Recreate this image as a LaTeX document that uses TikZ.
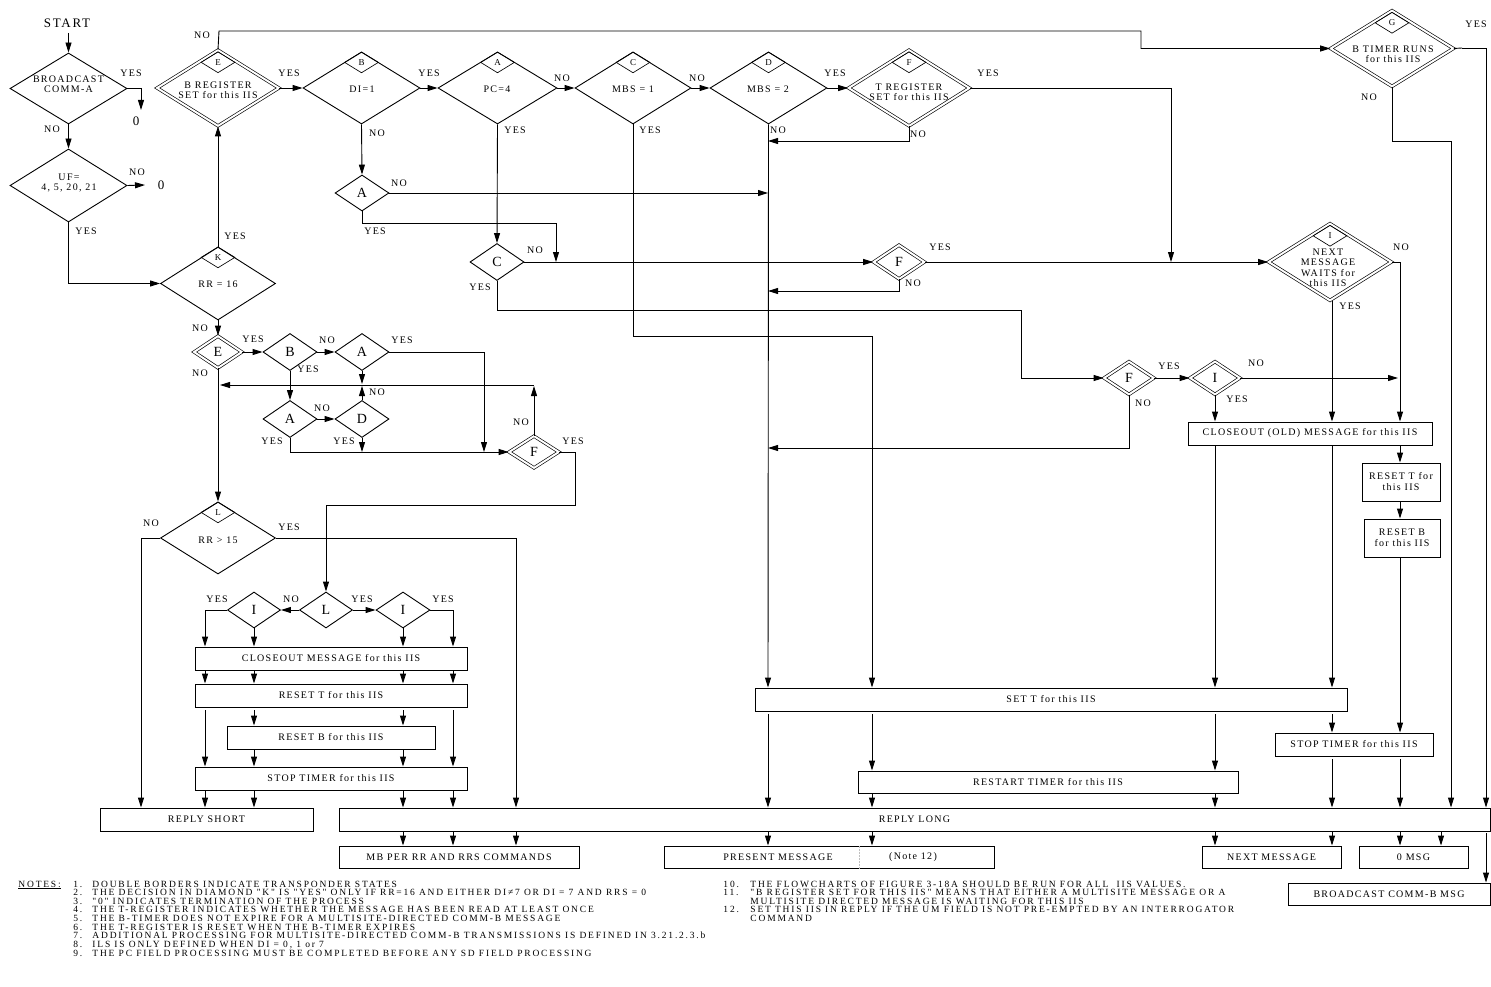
\documentclass[tikz,border=0pt]{standalone}
\usepackage{fontspec}
\setmainfont{Liberation Serif}
\newfontfamily\dfont{Liberation Serif}[LetterSpace=13]
\newfontfamily\nfont{Liberation Serif}[LetterSpace=19]
\usetikzlibrary{shapes.geometric,arrows.meta}
\begin{document}
\begin{tikzpicture}[x=1pt,y=-1pt,line width=0.9pt,
  arr/.style={-{Triangle[length=10pt,width=6pt]}},
  dia/.style 2 args={diamond,draw,inner sep=0pt,minimum width=#1,minimum height=#2,font=\fontsize{14}{14}\selectfont},
  ddia/.style 2 args={dia={#1}{#2},double,double distance=2pt,line width=0.65pt},
  subd/.style={diamond,draw,inner sep=0pt,minimum width=34pt,minimum height=21pt,line width=0.65pt,anchor=north,font=\dfont\fontsize{9}{9}\selectfont},
  box/.style={draw,rectangle,inner sep=0pt,font=\dfont\fontsize{10}{11}\selectfont,align=center},
  lbl/.style={inner sep=0pt,font=\dfont\fontsize{10}{10}\selectfont},
  dtxt/.style={inner sep=0pt,font=\dfont\fontsize{10}{10}\selectfont,align=center},
  zero/.style={inner sep=0pt,font=\fontsize{13}{13}\selectfont},
  note/.style={inner sep=0pt,anchor=base west,font=\nfont\fontsize{9.5}{9.5}\selectfont},
]
\useasboundingbox (0,0) rectangle (1491,987);

% column coordinates
\coordinate (xa) at (205,0);
\coordinate (xb) at (254,0);
\coordinate (xc) at (403,0);
\coordinate (xd) at (453,0);
\coordinate (xe) at (516,0);
\coordinate (xs) at (141,0);
\coordinate (xD) at (768,0);
\coordinate (xC) at (872,0);
\coordinate (xI) at (1215,0);
\coordinate (xN) at (1332,0);
\coordinate (xR) at (1400,0);
\coordinate (xG) at (1451,0);
\coordinate (xY) at (1486,0);
\coordinate (xZ) at (1441,0);

% ---------- diamonds ----------
\node[inner sep=0pt,font=\dfont\fontsize{13}{13}\selectfont] (start) at (67,23) {START};
\coordinate (startp) at (68.5,33);
\node[dia={117pt}{71pt}] (bc) at (68.5,88.5) {};
\node[dtxt] (bct) at (68.5,84.5) {BROADCAST\\COMM-A};
\node[dia={117pt}{73pt}] (uf) at (68.5,185.5) {};
\node[dtxt] (uft) at (69,182.5) {UF=\\4, 5, 20, 21};
\node[dia={115pt}{73pt}] (k) at (218,283.5) {};
\node[dtxt] (kt) at (218,284) {RR = 16};
\node[ddia={122pt}{76pt}] (e) at (218,88) {};
\node[dtxt] (et) at (218,90) {B REGISTER\\SET for this IIS};
\node[dia={117pt}{72pt}] (b) at (361.5,88) {};
\node[dtxt] (bt) at (362,89) {DI=1};
\node[dia={119pt}{72pt}] (a) at (497.5,88) {};
\node[dtxt] (at) at (497,89) {PC=4};
\node[dia={116pt}{72pt}] (c) at (633,88) {};
\node[dtxt] (ct) at (633,89) {MBS = 1};
\node[dia={117pt}{72pt}] (d) at (768.5,88) {};
\node[dtxt] (dt) at (768,89) {MBS = 2};
\node[ddia={121pt}{76pt}] (f) at (909,88) {};
\node[dtxt] (ft) at (909,92) {T REGISTER\\SET for this IIS};
\node[ddia={123pt}{76pt}] (g) at (1392,48.5) {};
\node[dtxt] (gt) at (1393,54) {B TIMER RUNS\\for this IIS};
\node[ddia={123pt}{77pt}] (i1) at (1330,262) {};
\node[dtxt,font=\dfont\fontsize{10}{10.5}\selectfont] (i1t) at (1328,268) {NEXT\\MESSAGE\\WAITS for\\this IIS};
\node[dia={115pt}{72pt}] (l) at (218,538) {};
\node[dtxt] (lt) at (218,540) {RR > 15};

% sub diamonds
\node[subd] (ks) at (k.north) {K};
\node[subd] (es) at ([yshift=-1.8pt]e.north) {E};
\node[subd] (bs) at (b.north) {B};
\node[subd] (as) at (a.north) {A};
\node[subd] (cs) at (c.north) {C};
\node[subd] (ds) at (d.north) {D};
\node[subd] (fs) at ([yshift=-1.8pt]f.north) {F};
\node[subd] (gs) at ([yshift=-1.8pt]g.north) {G};
\node[subd] (i1s) at ([yshift=-1.8pt]i1.north) {I};
\node[subd] (ls) at (l.north) {L};

% small diamonds
\node[dia={54pt}{36pt}] (a1) at (362,193) {A};
\node[dia={54pt}{37pt}] (c1) at (497,262) {C};
\node[ddia={51pt}{34pt}] (f1) at (899,262) {F};
\node[ddia={50pt}{33pt}] (f2) at (1129,378) {F};
\node[ddia={50pt}{33pt}] (i2) at (1215,378) {I};
\node[ddia={48pt}{32pt}] (e2) at (218,352) {E};
\node[dia={54pt}{37pt}] (b2) at (290,352) {B};
\node[dia={54pt}{37pt}] (a2) at (362,352) {A};
\node[dia={54pt}{37pt}] (a3) at (290,419) {A};
\node[dia={54pt}{37pt}] (d2) at (362,419) {D};
\node[ddia={50pt}{32pt}] (f3) at (534,452) {F};
\node[dia={53pt}{36pt}] (i3) at (254,610) {I};
\node[dia={53pt}{36pt}] (l2) at (326,610) {L};
\node[dia={54pt}{36pt}] (i4) at (403,610) {I};

% ---------- boxes ----------
\node[box,minimum width=272pt,minimum height=23pt] (clo) at (331,658.5) {CLOSEOUT MESSAGE for this IIS};
\node[box,minimum width=272pt,minimum height=23pt] (rt) at (331,695.5) {RESET T for this IIS};
\node[box,minimum width=208pt,minimum height=23pt] (rb) at (331,737.5) {RESET B for this IIS};
\node[box,minimum width=272pt,minimum height=23pt] (st) at (331,778.5) {STOP TIMER for this IIS};
\node[box,minimum width=213pt,minimum height=23pt] (rs) at (206.5,819.5) {REPLY SHORT};
\node[box,minimum width=1151pt,minimum height=23pt] (rl) at (914.5,819.5) {REPLY LONG};
\node[box,minimum width=240pt,minimum height=22pt] (mb) at (459,857) {MB PER RR AND RRS COMMANDS};
\node[box,minimum width=330pt,minimum height=22pt] (pm) at (829,857) {};
\node[lbl] (pmt) at (778,857) {PRESENT MESSAGE};
\node[lbl] (pmn) at (913,857) {(Note 12)};
\draw[line width=0.5pt,gray!50,densely dotted] (pm.north -| 859,0) -- (pm.south -| 859,0);
\node[box,minimum width=139pt,minimum height=22pt] (nm) at (1271.5,857) {NEXT MESSAGE};
\node[box,minimum width=109pt,minimum height=22pt] (zm) at (1413.5,857) {0 MSG};
\node[box,minimum width=202pt,minimum height=22pt] (bcb) at (1389,894) {BROADCAST COMM-B MSG};
\node[box,minimum width=592pt,minimum height=23pt] (sett) at (1051,699.5) {SET T for this IIS};
\node[box,minimum width=380pt,minimum height=22pt] (rst) at (1048,782) {RESTART TIMER for this IIS};
\node[box,minimum width=158pt,minimum height=23pt] (st2) at (1354,744.5) {STOP TIMER for this IIS};
\node[box,minimum width=244pt,minimum height=23pt] (clo2) at (1310,433.5) {CLOSEOUT (OLD) MESSAGE for this IIS};
\node[box,minimum width=78pt,minimum height=38pt] (rt2) at (1401,482) {RESET T for\\this IIS};
\node[box,minimum width=76pt,minimum height=38pt] (rb2) at (1402,538) {RESET B\\for this IIS};

% ---------- YES / NO labels ----------
\node[lbl] (y1) at (131,73) {YES};
\node[zero] (z1) at (136,121) {0};
\node[lbl] (n1) at (52,129) {NO};
\node[lbl] (n2) at (137,172) {NO};
\node[zero] (z2) at (161,185) {0};
\node[lbl] (y2) at (86,231) {YES};
\node[lbl] (y3) at (235,236) {YES};
\node[lbl] (n3) at (202,35) {NO};
\node[lbl] (y4) at (289,73) {YES};
\node[lbl] (y5) at (429,73) {YES};
\node[lbl] (n4) at (377,133) {NO};
\node[lbl] (n5) at (399,183) {NO};
\node[lbl] (y6) at (375,231) {YES};
\node[lbl] (n6) at (562,78) {NO};
\node[lbl] (y7) at (515,130) {YES};
\node[lbl] (n7) at (535,250) {NO};
\node[lbl] (y8) at (480,287) {YES};
\node[lbl] (n8) at (697,78) {NO};
\node[lbl] (y9) at (650,130) {YES};
\node[lbl] (y10) at (835,73) {YES};
\node[lbl] (n9) at (778,130) {NO};
\node[lbl] (y11) at (988,73) {YES};
\node[lbl] (n10) at (918,134) {NO};
\node[lbl] (y12) at (940,247) {YES};
\node[lbl] (n11) at (913,283) {NO};
\node[lbl] (y13) at (1476,24) {YES};
\node[lbl] (n12) at (1369,97) {NO};
\node[lbl] (n13) at (1401,247) {NO};
\node[lbl] (y14) at (1350,306) {YES};
\node[lbl] (y15) at (1169,366) {YES};
\node[lbl] (n14) at (1143,403) {NO};
\node[lbl] (n15) at (1256,363) {NO};
\node[lbl] (y16) at (1237,399) {YES};
\node[lbl] (n16) at (200,328) {NO};
\node[lbl] (y17) at (253,339) {YES};
\node[lbl] (n17) at (200,373) {NO};
\node[lbl] (n18) at (327,340) {NO};
\node[lbl] (y18) at (308,369) {YES};
\node[lbl] (y19) at (402,340) {YES};
\node[lbl] (n19) at (322,408) {NO};
\node[lbl] (y20) at (272,441) {YES};
\node[lbl] (n20) at (377,392) {NO};
\node[lbl] (y21) at (344,441) {YES};
\node[lbl] (n21) at (521,422) {NO};
\node[lbl] (y22) at (573,441) {YES};
\node[lbl] (n22) at (151,523) {NO};
\node[lbl] (y23) at (289,527) {YES};
\node[lbl] (y24) at (217,599) {YES};
\node[lbl] (n23) at (291,599) {NO};
\node[lbl] (y25) at (362,599) {YES};
\node[lbl] (y26) at (443,599) {YES};

% ---------- connectors: top ----------
\coordinate (z1p) at (141,110);
\coordinate (z2p) at (145,185);
\draw[arr] (startp) -- (bc.north);
\draw[arr] (bc.east) -| (z1p);
\draw[arr] (bc.south) -- (uf.north);
\draw[arr] (uf.east) -- (z2p);
\draw[arr] (uf.south) |- (k.west);
\draw[arr] (k.north) -- (e.south);
\coordinate (t1) at (219,31);
\coordinate (t2) at (1141,31);
\draw[arr] (e.north) -- (t1) -- (t2) |- (g.west);
\draw[arr] (e.east) -- (b.west);
\draw[arr] (b.east) -- (a.west);
\draw[arr] (a.east) -- (c.west);
\draw[arr] (c.east) -- (d.west);
\draw[arr] (d.east) -- (f.west);
\draw[arr] (b.south) -- (a1.north);
\draw[arr] (a1.east) -- (a1.east -| xD);
\coordinate (j1) at (556,223);
\draw[arr] (a1.south) |- (j1) -- (j1 |- c1.east);
\draw[arr] (a.south) -- (c1.north);
\draw[arr] (c1.east) -- (f1.west);
\coordinate (j2) at (1021,310);
\draw[arr] (c1.south) |- (j2) |- (f2.west);
\coordinate (j3) at (872,336);
\draw[arr] (c.south) |- (j3) -- (sett.north -| xC);
\draw[arr] (d.south) -- (sett.north -| xD);
\coordinate (j4) at (768,141);
\draw[arr] (f.south) |- (j4);
\coordinate (j5) at (1171,262);
\draw[arr] (f.east) -| (j5);
\coordinate (j6) at (768,291);
\draw[arr] (f1.south) |- (j6);
\draw[arr] (f1.east) -- (i1.west);
\coordinate (j7) at (768,448);
\draw[arr] (f2.south) |- (j7);
\draw[arr] (f2.east) -- (i2.west);
\draw[arr] (i2.east) -- ([xshift=-2pt]i2.east -| xR);
\draw[arr] (i2.south) -- (clo2.north -| xI);
\draw[arr] (i1.south -| xN) -- (clo2.north -| xN);
\draw[arr] (i1.east) -| (clo2.north -| xR);
\coordinate (j8) at (1462,48);
\draw (g.east) -- (j8);
\draw[arr] (j8) -| (rl.north -| xY);
\coordinate (j9) at (1451,141);
\draw[arr] (g.south) |- (j9) -- (rl.north -| xG);

% right column
\draw[arr] (clo2.south -| xI) -- (sett.north -| xI);
\draw[arr] (clo2.south -| xN) -- (sett.north -| xN);
\draw[arr] (clo2.south -| xR) -- (rt2.north -| xR);
\draw[arr] (rt2.south -| xR) -- (rb2.north -| xR);
\draw[arr] (rb2.south -| xR) -- (st2.north -| xR);
\draw[arr] ([yshift=-3pt]sett.south -| xD) -- (rl.north -| xD);
\draw[arr] ([yshift=-3pt]sett.south -| xC) -- (rst.north -| xC);
\draw[arr] ([yshift=-3pt]sett.south -| xI) -- (rst.north -| xI);
\draw[arr] ([yshift=-3pt]sett.south -| xN) -- (st2.north -| xN);
\draw[arr] (rst.south -| xC) -- (rl.north -| xC);
\draw[arr] (rst.south -| xI) -- (rl.north -| xI);
\draw[arr] ([yshift=-3pt]st2.south -| xN) -- (rl.north -| xN);
\draw[arr] ([yshift=-3pt]st2.south -| xR) -- (rl.north -| xR);

% bottom outputs
\draw[arr] (rl.south -| xc) -- (mb.north -| xc);
\draw[arr] (rl.south -| xd) -- (mb.north -| xd);
\draw[arr] (rl.south -| xe) -- (mb.north -| xe);
\draw[arr] (rl.south -| xD) -- (pm.north -| xD);
\draw[arr] (rl.south -| xC) -- (pm.north -| xC);
\draw[arr] (rl.south -| xI) -- (nm.north -| xI);
\draw[arr] (rl.south -| xN) -- (nm.north -| xN);
\draw[arr] (rl.south -| xR) -- (zm.north -| xR);
\draw[arr] (rl.south -| xZ) -- (zm.north -| xZ);
\draw[arr] ([yshift=-2pt]rl.south -| xY) -- (bcb.north -| xY);

% ---------- connectors: left group ----------
\draw[arr] (k.south) -- (e2.north);
\draw[arr] (e2.east) -- (b2.west);
\draw[arr] (b2.east) -- (a2.west);
\coordinate (j10) at (484,452);
\draw[arr] (a2.east) -| (j10);
\draw[arr] (b2.south) -- (a3.north);
\draw[arr] (a3.east) -- (d2.west);
\coordinate (lp) at (534,385);
\draw[arr] (a2.south) -- ([yshift=1pt]a2.south |- lp);
\draw[arr] (d2.north) -- ([yshift=-1pt]d2.north |- lp);
\draw[arr] (f3.north) -- ([yshift=-1pt]lp);
\draw[arr] (lp) -- ([xshift=2pt]lp -| e2.south);
\draw[arr] (a3.south) |- (f3.west);
\draw[arr] (d2.south) -- (d2.south |- f3.west);
\coordinate (j11) at (575,505);
\draw[arr] (f3.east) -| (j11) -| (l2.north);
\draw[arr] (e2.south) -- (l.north);
\draw[arr] (l.west) -| (rs.north -| xs);
\draw[arr] (l.east) -| (rl.north -| xe);
\draw[arr] (l2.west) -- (i3.east);
\draw[arr] (l2.east) -- (i4.west);
\draw[arr] (i3.west) -| (clo.north -| xa);
\draw[arr] (i3.south) -- (clo.north -| xb);
\draw[arr] (i4.east) -| (clo.north -| xd);
\draw[arr] (i4.south) -- (clo.north -| xc);
\draw[arr] (clo.south -| xa) -- (rt.north -| xa);
\draw[arr] (clo.south -| xb) -- (rt.north -| xb);
\draw[arr] (clo.south -| xc) -- (rt.north -| xc);
\draw[arr] (clo.south -| xd) -- (rt.north -| xd);
\draw[arr] ([yshift=-3pt]rt.south -| xb) -- (rb.north -| xb);
\draw[arr] ([yshift=-3pt]rt.south -| xc) -- (rb.north -| xc);
\draw[arr] ([yshift=-3pt]rt.south -| xa) -- (st.north -| xa);
\draw[arr] ([yshift=-3pt]rt.south -| xd) -- (st.north -| xd);
\draw[arr] (rb.south -| xb) -- (st.north -| xb);
\draw[arr] (rb.south -| xc) -- (st.north -| xc);
\draw[arr] (st.south -| xa) -- (rs.north -| xa);
\draw[arr] (st.south -| xb) -- (rs.north -| xb);
\draw[arr] (st.south -| xc) -- (rl.north -| xc);
\draw[arr] (st.south -| xd) -- (rl.north -| xd);

% ---------- notes ----------
\node[note] (nt0) at (18,887) {\underline{NOTES:}};
\node[note] (nt1) at (73,887) {\makebox[19pt][l]{1.}DOUBLE BORDERS INDICATE TRANSPONDER STATES};
\node[note] (nt2) at (73,895.65) {\makebox[19pt][l]{2.}THE DECISION IN DIAMOND "K" IS "YES" ONLY IF RR=16 AND EITHER DI≠7 OR DI = 7 AND RRS = 0};
\node[note] (nt3) at (73,904.3) {\makebox[19pt][l]{3.}"0" INDICATES TERMINATION OF THE PROCESS};
\node[note] (nt4) at (73,912.95) {\makebox[19pt][l]{4.}THE T-REGISTER INDICATES WHETHER THE MESSAGE HAS BEEN READ AT LEAST ONCE};
\node[note] (nt5) at (73,921.6) {\makebox[19pt][l]{5.}THE B-TIMER DOES NOT EXPIRE FOR A MULTISITE-DIRECTED COMM-B MESSAGE};
\node[note] (nt6) at (73,930.25) {\makebox[19pt][l]{6.}THE T-REGISTER IS RESET WHEN THE B-TIMER EXPIRES};
\node[note] (nt7) at (73,938.9) {\makebox[19pt][l]{7.}ADDITIONAL PROCESSING FOR MULTISITE-DIRECTED COMM-B TRANSMISSIONS IS DEFINED IN 3.21.2.3.b};
\node[note] (nt8) at (73,947.55) {\makebox[19pt][l]{8.}ILS IS ONLY DEFINED WHEN DI = 0, 1 or 7};
\node[note] (nt9) at (73,956.2) {\makebox[19pt][l]{9.}THE PC FIELD PROCESSING MUST BE COMPLETED BEFORE ANY SD FIELD PROCESSING};
\node[note] (nt10) at (723,887) {\makebox[27pt][l]{10.}THE FLOWCHARTS OF FIGURE 3-18A SHOULD BE RUN FOR ALL\ \ IIS VALUES.};
\node[note] (nt11) at (723,895.65) {\makebox[27pt][l]{11.}"B REGISTER SET FOR THIS IIS" MEANS THAT EITHER A MULTISITE MESSAGE OR A};
\node[note] (nt11b) at (750,904.3) {MULTISITE DIRECTED MESSAGE IS WAITING FOR THIS IIS};
\node[note] (nt12) at (723,912.95) {\makebox[27pt][l]{12.}SET THIS IIS IN REPLY IF THE UM FIELD IS NOT PRE-EMPTED BY AN INTERROGATOR};
\node[note] (nt12b) at (750,921.6) {COMMAND};
\end{tikzpicture}
\end{document}
